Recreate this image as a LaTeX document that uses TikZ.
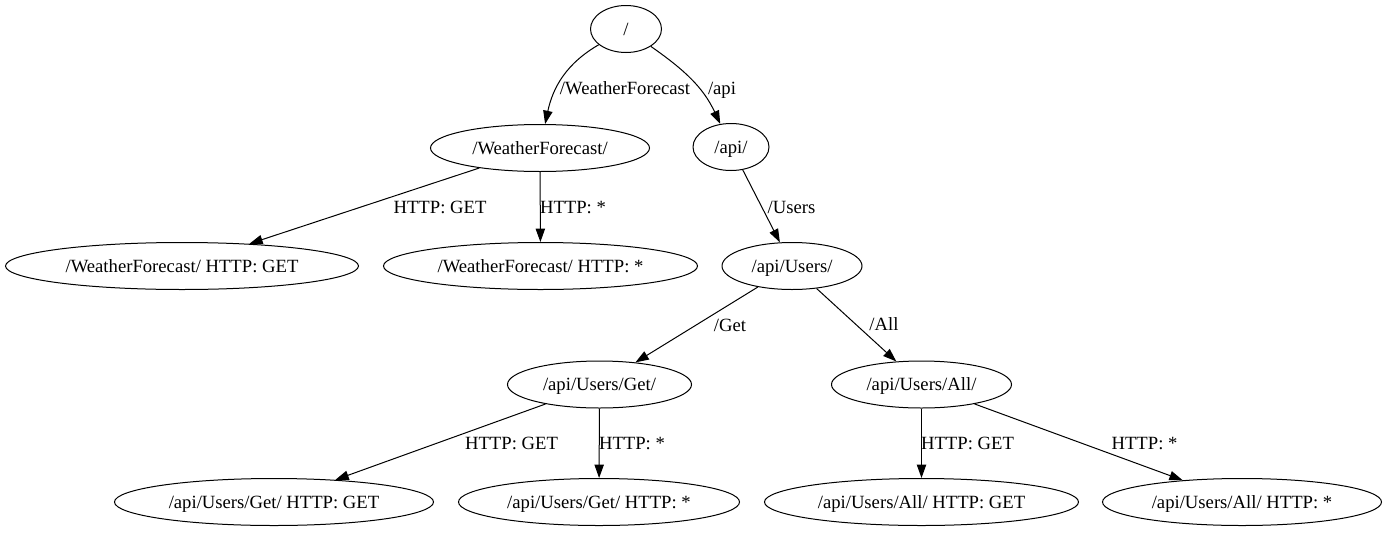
\documentclass[tikz,border=0pt]{standalone}
\usepackage{fontspec}
\setmainfont{Liberation Serif}
\newfontfamily\routefont{Liberation Serif}
\usepackage{tikz}
\usetikzlibrary{shapes, arrows.meta, positioning}

\begin{document}
\begin{tikzpicture}[x=0.75pt, y=-0.75pt, line width=0.75pt,
	every node/.style={font=\routefont\fontsize{14}{16}\selectfont},
	route/.style={draw, ellipse, inner sep=0pt, minimum height=35.25pt, text height=9.3pt, text depth=0pt},
	lbl/.style={inner sep=0pt, text height=9.3pt, text depth=0pt},
	link/.style={-{Triangle[length=10pt, width=7pt]}}]
			\useasboundingbox (0,0) rectangle (1388,532);
			%% routes
			\node[route, minimum width=53.25pt] (root) at (626, 29) {/};
			\node[route, minimum width=164.25pt] (wf) at (540, 148) {/WeatherForecast/};
			\node[route, minimum width=57pt] (api) at (731, 147) {/api/};
			\node[route, minimum width=264.75pt] (wfget) at (182, 266) {/WeatherForecast/ HTTP: GET};
			\node[route, minimum width=235.5pt] (wfall) at (540.5, 266) {/WeatherForecast/ HTTP: *};
			\node[route, minimum width=105pt] (users) at (792, 266) {/api/Users/};
			\node[route, minimum width=138pt] (get) at (599.5, 384.5) {/api/Users/Get/};
			\node[route, minimum width=135pt] (all) at (921.5, 384.5) {/api/Users/All/};
			\node[route, minimum width=239.25pt] (getget) at (274, 502) {/api/Users/Get/ HTTP: GET};
			\node[route, minimum width=210.75pt] (getall) at (599, 502) {/api/Users/Get/ HTTP: *};
			\node[route, minimum width=235.5pt] (allget) at (921.5, 502) {/api/Users/All/ HTTP: GET};
			\node[route, minimum width=209.25pt] (allall) at (1242, 502) {/api/Users/All/ HTTP: *};
			
			%% links
			\draw[link] (root) to[out=-150, in=78] (wf);
			\draw[link] (root) to[out=-35, in=115] (api);
			\draw[link] (wf) -- (wfget);
			\draw[link] (wf) -- (wfall);
			\draw[link] (api) -- (users);
			\draw[link] (users) -- (get);
			\draw[link] (users) -- (all);
			\draw[link] (get) -- (getget);
			\draw[link] (get) -- (getall);
			\draw[link] (all) -- (allget);
			\draw[link] (all) -- (allall);
			
			\node[lbl] (lwf) at (625, 88) {/WeatherForecast};
			\node[lbl] (lapi) at (722, 88) {/api};
			\node[lbl] (lwfget) at (440, 207) {HTTP: GET};
			\node[lbl] (lwfall) at (573, 207) {HTTP: *};
			\node[lbl] (lusers) at (791.5, 207) {/Users};
			\node[lbl] (lget) at (730, 325) {/Get};
			\node[lbl] (lall) at (884, 324) {/All};
			\node[lbl] (lgetget) at (511.5, 443) {HTTP: GET};
			\node[lbl] (lgetall) at (632, 443) {HTTP: *};
			\node[lbl] (lallget) at (967.5, 443) {HTTP: GET};
			\node[lbl] (lallall) at (1144.5, 443) {HTTP: *};
\end{tikzpicture}
\end{document}
